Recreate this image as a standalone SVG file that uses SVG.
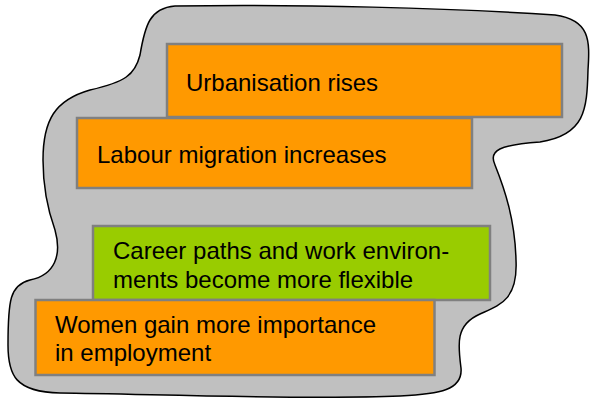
<svg xmlns="http://www.w3.org/2000/svg" width="590" height="398" viewBox="0 0 590 398">
<style>
.box{stroke:#808080;stroke-width:2.5}
.o{fill:#FF9900}
.g{fill:#99CC00}
text{font-family:"Liberation Sans",Arial,sans-serif;font-size:24px;fill:#000}
</style>
<g id="background">
<path d="M 175,6 C 300,4 450,8 555,15 C 590,20 590,40 588,70 C 587,110 585,135 540,142 C 500,145 488,150 495,165 C 505,190 515,220 516,260 C 518,300 500,305 480,314 C 455,325 458,345 461,368 C 463,390 440,394 400,396 C 300,400 150,394 60,393 C 15,392 8,375 8,345 C 8,300 10,285 30,280 C 55,275 62,255 55,230 C 46,205 43,180 43,160 C 43,120 55,100 90,90 C 125,82 135,75 140,55 C 145,25 150,8 175,6 Z" fill="#C0C0C0" stroke="#000" stroke-width="1.5"/>
</g>
<g id="connectors"></g>
<g id="urbanisation">
<rect class="box o" x="167" y="44" width="395" height="73"/>
<text x="186" y="91">Urbanisation rises</text>
</g>
<g id="labour">
<rect class="box o" x="77" y="118" width="395" height="70"/>
<text x="97" y="163">Labour migration increases</text>
</g>
<g id="career">
<rect class="box g" x="93" y="226" width="397" height="74"/>
<text x="113" y="259">Career paths and work environ-</text>
<text x="113" y="288">ments become more flexible</text>
</g>
<g id="women">
<rect class="box o" x="35.5" y="300" width="399" height="75"/>
<text x="55" y="333">Women gain more importance</text>
<text x="55" y="361">in employment</text>
</g>
</svg>
